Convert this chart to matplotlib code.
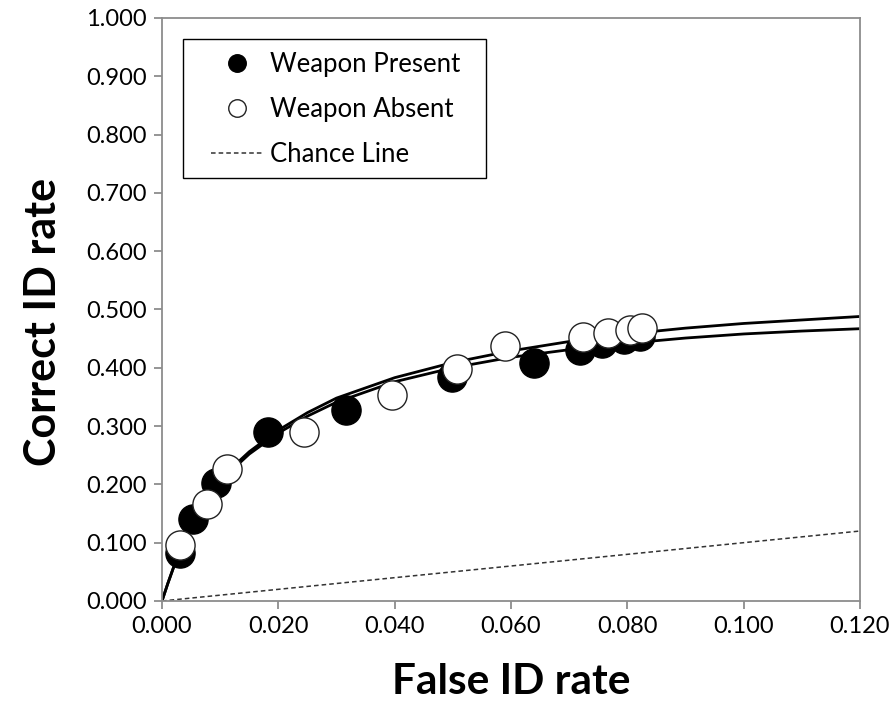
import matplotlib
matplotlib.use("Agg")
import matplotlib.pyplot as plt
import matplotlib.patches as patches
import numpy as np

# data points
present_x = [0.0031, 0.0053, 0.0092, 0.0182, 0.0317, 0.0498, 0.0640, 0.0719, 0.0756, 0.0795, 0.0822]
present_y = [0.082, 0.141, 0.202, 0.290, 0.328, 0.385, 0.408, 0.431, 0.443, 0.450, 0.455]

absent_x = [0.0031, 0.0077, 0.0111, 0.0244, 0.0395, 0.0508, 0.0590, 0.0724, 0.0767, 0.0805, 0.0826]
absent_y = [0.096, 0.166, 0.226, 0.290, 0.354, 0.398, 0.437, 0.452, 0.459, 0.465, 0.469]

# fitted curves, sampled along the drawn lines
curve_x = [0.0, 0.001, 0.002, 0.003, 0.004, 0.005, 0.0075, 0.010, 0.015, 0.020, 0.025,
           0.030, 0.040, 0.050, 0.060, 0.070, 0.080, 0.090, 0.100, 0.110, 0.120]
curve_absent_y = [0.0, 0.030, 0.058, 0.085, 0.110, 0.133, 0.175, 0.210, 0.256, 0.293, 0.323,
                  0.348, 0.383, 0.409, 0.429, 0.445, 0.458, 0.468, 0.476, 0.482, 0.488]
curve_present_y = [0.0, 0.030, 0.058, 0.085, 0.109, 0.131, 0.172, 0.206, 0.252, 0.288, 0.317,
                   0.341, 0.376, 0.400, 0.418, 0.431, 0.442, 0.451, 0.458, 0.463, 0.467]

chance_x = [0.0, 0.12]
chance_y = [0.0, 0.12]

xticks = np.arange(0, 0.1201, 0.02)
yticks = np.arange(0, 1.001, 0.1)

fig = plt.figure(figsize=(8.96, 7.02), dpi=100)
ax = fig.add_axes([0.1808, 0.1439, 0.7790, 0.8305])

ax.plot(curve_x, curve_absent_y, color="black", lw=2, zorder=2)
ax.plot(curve_x, curve_present_y, color="black", lw=2, zorder=2)
ax.plot(chance_x, chance_y, color="#333333", lw=1.1, dashes=(3, 2), zorder=2,
        label="Chance Line")

ax.plot(present_x, present_y, "o", ms=21, mfc="black", mec="black", mew=1,
        zorder=3, label="Weapon Present")
ax.plot(absent_x, absent_y, "o", ms=21, mfc="white", mec="#222222", mew=1,
        zorder=4, label="Weapon Absent")

ax.set_xlim(0, 0.12)
ax.set_ylim(0, 1.0)
ax.set_xticks(xticks)
ax.set_yticks(yticks)
ax.set_xticklabels(["%.3f" % v for v in xticks])
ax.set_yticklabels(["%.3f" % v for v in yticks])

for s in ax.spines.values():
    s.set_color("#8c8c8c")
    s.set_linewidth(1.3)
ax.tick_params(direction="out", length=6, width=1.3, color="#8c8c8c",
               labelsize=17, pad=5)
for lab in ax.get_xticklabels() + ax.get_yticklabels():
    lab.set_family("Lato")

ax.set_xlabel("False ID rate", family="Lato", fontweight="bold", fontsize=30.5)
ax.set_ylabel("Correct ID rate", family="Lato", fontweight="bold", fontsize=31)
ax.xaxis.set_label_coords(0.5, -0.106)
ax.yaxis.set_label_coords(-0.142, 0.479)

# legend box drawn separately so the padding can match
box = patches.Rectangle((0.0301, 0.7256), 0.4341, 0.2384, transform=ax.transAxes,
                        facecolor="white", edgecolor="black", lw=1, zorder=5)
ax.add_patch(box)

handles, labels = ax.get_legend_handles_labels()
order = [1, 2, 0]
leg = ax.legend([handles[i] for i in order], [labels[i] for i in order],
                loc="upper left", bbox_to_anchor=(0.0702, 0.9415),
                prop={"family": "Lato", "size": 18.5}, markerscale=0.6,
                handlelength=2.05, handletextpad=0.25, labelspacing=0.78,
                borderpad=0, borderaxespad=0, frameon=False)
leg.set_zorder(6)

fig.savefig("out.png", dpi=100)
